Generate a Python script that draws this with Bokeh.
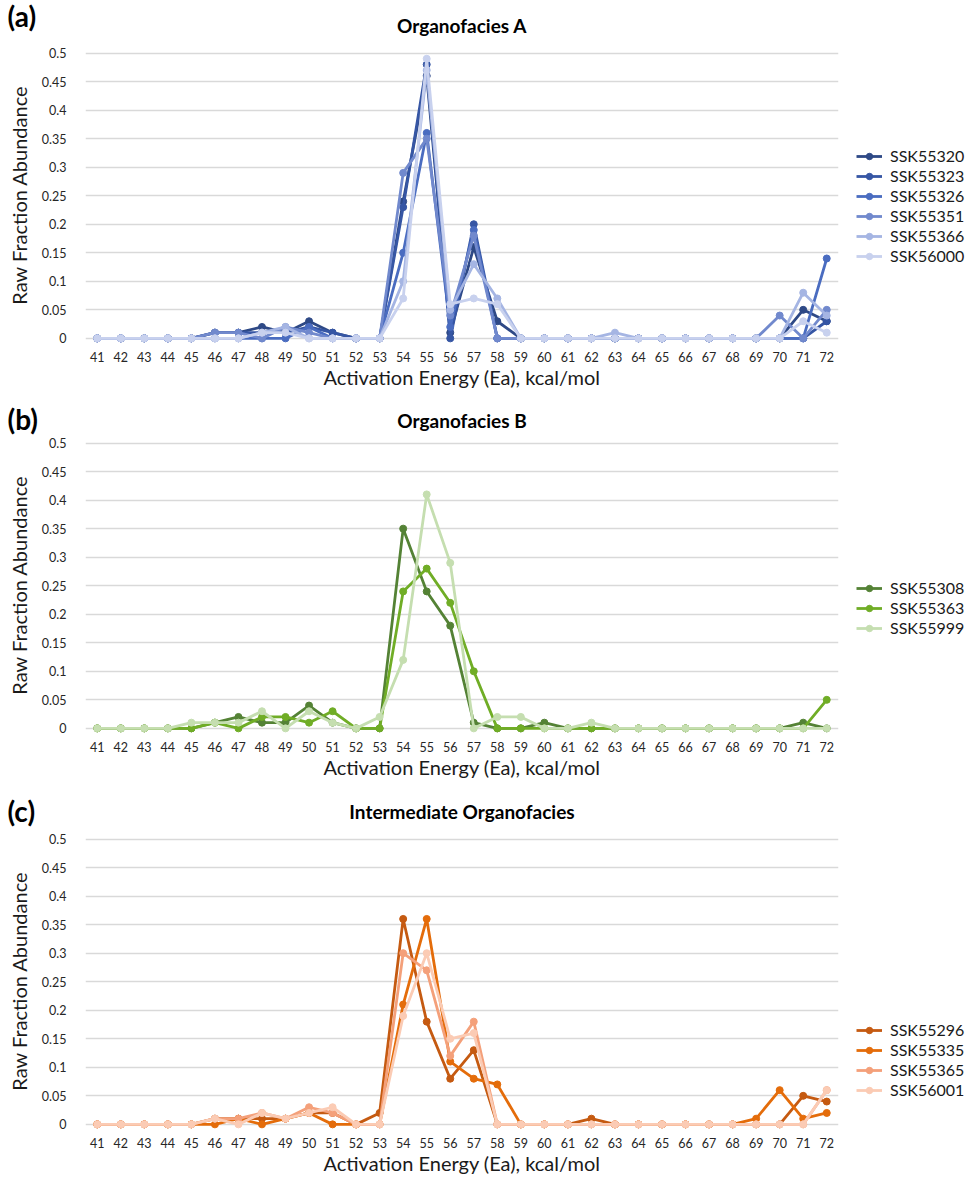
from bokeh.plotting import figure
from bokeh.models import (Range1d, FixedTicker, CustomJSTickFormatter, Legend,
                          LegendItem, Title)
from bokeh.layouts import column
from bokeh.embed import file_html
from bokeh.resources import INLINE

# ---------------- data ----------------
energy = [41, 42, 43, 44, 45, 46, 47, 48, 49, 50, 51, 52, 53, 54, 55, 56,
          57, 58, 59, 60, 61, 62, 63, 64, 65, 66, 67, 68, 69, 70, 71, 72]
y_ticks = [0, 0.05, 0.1, 0.15, 0.2, 0.25, 0.3, 0.35, 0.4, 0.45, 0.5]

# Organofacies A
a_names = ["SSK55320", "SSK55323", "SSK55326", "SSK55351", "SSK55366", "SSK56000"]
a_colors = ["#2E4986", "#3656A4", "#4A6CC0", "#7189CD", "#A5B5E3", "#C8D1EE"]
ssk55320 = [0, 0, 0, 0, 0, 0.01, 0.01, 0.02, 0.01, 0.03, 0.01, 0, 0, 0.24, 0.46, 0.01,
            0.16, 0.03, 0, 0, 0, 0, 0, 0, 0, 0, 0, 0, 0, 0, 0.05, 0.03]
ssk55323 = [0, 0, 0, 0, 0, 0.01, 0.01, 0.01, 0.01, 0.02, 0.01, 0, 0, 0.23, 0.48, 0,
            0.20, 0, 0, 0, 0, 0, 0, 0, 0, 0, 0, 0, 0, 0, 0, 0.03]
ssk55326 = [0, 0, 0, 0, 0, 0, 0, 0, 0, 0.02, 0, 0, 0, 0.15, 0.36, 0.02,
            0.19, 0, 0, 0, 0, 0, 0, 0, 0, 0, 0, 0, 0, 0, 0, 0.14]
ssk55351 = [0, 0, 0, 0, 0, 0.01, 0.01, 0, 0.02, 0.01, 0, 0, 0, 0.29, 0.35, 0.04,
            0.18, 0, 0, 0, 0, 0, 0, 0, 0, 0, 0, 0, 0, 0.04, 0, 0.05]
ssk55366 = [0, 0, 0, 0, 0, 0, 0, 0.01, 0.02, 0, 0, 0, 0, 0.10, 0.47, 0.05,
            0.13, 0.07, 0, 0, 0, 0, 0.01, 0, 0, 0, 0, 0, 0, 0, 0.08, 0.04]
ssk56000 = [0, 0, 0, 0, 0, 0, 0, 0.01, 0.01, 0, 0, 0, 0, 0.07, 0.49, 0.06,
            0.07, 0.06, 0, 0, 0, 0, 0, 0, 0, 0, 0, 0, 0, 0, 0.03, 0.01]

# Organofacies B
b_names = ["SSK55308", "SSK55363", "SSK55999"]
b_colors = ["#548235", "#70AD26", "#C5DEB0"]
ssk55308 = [0, 0, 0, 0, 0, 0.01, 0.02, 0.01, 0.01, 0.04, 0.01, 0, 0, 0.35, 0.24, 0.18,
            0.01, 0, 0, 0.01, 0, 0, 0, 0, 0, 0, 0, 0, 0, 0, 0.01, 0]
ssk55363 = [0, 0, 0, 0, 0, 0.01, 0, 0.02, 0.02, 0.01, 0.03, 0, 0, 0.24, 0.28, 0.22,
            0.10, 0, 0, 0, 0, 0, 0, 0, 0, 0, 0, 0, 0, 0, 0, 0.05]
ssk55999 = [0, 0, 0, 0, 0.01, 0.01, 0.01, 0.03, 0, 0.03, 0.01, 0, 0.02, 0.12, 0.41, 0.29,
            0, 0.02, 0.02, 0, 0, 0.01, 0, 0, 0, 0, 0, 0, 0, 0, 0, 0]

# Intermediate Organofacies
c_names = ["SSK55296", "SSK55335", "SSK55365", "SSK56001"]
c_colors = ["#C55A11", "#E46C0A", "#F4A07A", "#FBCBB4"]
ssk55296 = [0, 0, 0, 0, 0, 0.01, 0.01, 0.01, 0.01, 0.02, 0.02, 0, 0.02, 0.36, 0.18, 0.08,
            0.13, 0, 0, 0, 0, 0.01, 0, 0, 0, 0, 0, 0, 0, 0, 0.05, 0.04]
ssk55335 = [0, 0, 0, 0, 0, 0, 0.01, 0, 0.01, 0.02, 0, 0, 0, 0.21, 0.36, 0.11,
            0.08, 0.07, 0, 0, 0, 0, 0, 0, 0, 0, 0, 0, 0.01, 0.06, 0.01, 0.02]
ssk55365 = [0, 0, 0, 0, 0, 0.01, 0.01, 0.02, 0.01, 0.03, 0.02, 0, 0, 0.30, 0.27, 0.12,
            0.18, 0, 0, 0, 0, 0, 0, 0, 0, 0, 0, 0, 0, 0, 0, 0.06]
ssk56001 = [0, 0, 0, 0, 0, 0.01, 0, 0.02, 0.01, 0.02, 0.03, 0, 0, 0.19, 0.30, 0.15,
            0.16, 0, 0, 0, 0, 0, 0, 0, 0, 0, 0, 0, 0, 0, 0, 0.06]

FONT = "Lato"
FRAME_W = 753
FRAME_H = 301


def make_panel(tag, title, names, series, colors, top, s_title, s_tag,
               legend_loc):
    p = figure(frame_width=FRAME_W, frame_height=FRAME_H, output_backend="svg",
               toolbar_location=None,
               x_range=Range1d(40.5, 72.5), y_range=Range1d(-0.0125, 0.515),
               min_border_left=85, min_border_right=130, min_border_top=top,
               min_border_bottom=30, title=tag)
    p.outline_line_color = None
    p.background_fill_color = "white"
    p.border_fill_color = "white"
    # panel tag "(a)" etc. (outer title)
    p.title.text_font = FONT
    p.title.text_font_size = "28px"
    p.title.text_font_style = "bold"
    p.title.text_color = "#000000"
    p.title.align = "left"
    p.title.offset = -78
    p.title.standoff = s_tag
    # chart title (inner title)
    main_t = Title(text=title, align="center", standoff=s_title,
                   text_font=FONT, text_font_size="19px", text_font_style="bold",
                   text_color="#000000")
    p.add_layout(main_t, "above")

    p.xgrid.visible = False
    p.ygrid.grid_line_color = "#D9D9D9"
    p.ygrid.grid_line_width = 1.3

    p.yaxis.ticker = FixedTicker(ticks=y_ticks)
    p.yaxis.formatter = CustomJSTickFormatter(
        code="return (Math.round(tick * 100) / 100).toString();")
    p.xaxis.ticker = FixedTicker(ticks=energy)
    for ax in (p.xaxis, p.yaxis):
        ax.axis_line_color = None
        ax.major_tick_line_color = None
        ax.minor_tick_line_color = None
        ax.major_label_text_font = FONT
        ax.major_label_text_font_size = "12.5px"
        ax.major_label_text_color = "#262626"
        ax.axis_label_text_font = FONT
        ax.axis_label_text_font_size = "20px"
        ax.axis_label_text_font_style = "normal"
        ax.axis_label_text_color = "#1a1a1a"
    p.yaxis.major_label_standoff = 13
    p.yaxis.axis_label_standoff = 8
    p.yaxis.axis_label = "Raw Fraction Abundance"
    p.xaxis.major_label_standoff = 0
    p.xaxis.axis_label_standoff = 0
    p.xaxis.axis_label = "Activation Energy (Ea), kcal/mol"

    items = []
    for name, vals, col in zip(names, series, colors):
        r1 = p.line(energy, vals, line_color=col, line_width=2.8)
        r2 = p.scatter(energy, vals, size=7, marker="circle", fill_color=col,
                       line_color=col)
        items.append(LegendItem(label=name, renderers=[r1, r2]))

    leg = Legend(items=items, location=legend_loc, border_line_color=None,
                 background_fill_alpha=0, padding=0, margin=0, spacing=1,
                 glyph_width=26, glyph_height=16, label_height=16,
                 label_standoff=8, label_text_font=FONT,
                 label_text_font_size="16px", label_text_color="#1a1a1a")
    p.add_layout(leg, "right")
    return p


pa = make_panel("(a)", "Organofacies A", a_names,
                [ssk55320, ssk55323, ssk55326, ssk55351, ssk55366, ssk56000],
                a_colors, 44, 15, -56, (18, 80))
pb = make_panel("(b)", "Organofacies B", b_names,
                [ssk55308, ssk55363, ssk55999], b_colors, 43, 5, -62, (18, 98))
pc = make_panel("(c)", "Intermediate Organofacies", c_names,
                [ssk55296, ssk55335, ssk55365, ssk56001], c_colors, 49, 15, -75,
                (18, 32))

layout = column(pa, pb, pc, spacing=0)
open("out.html", "w").write(file_html(layout, INLINE))
